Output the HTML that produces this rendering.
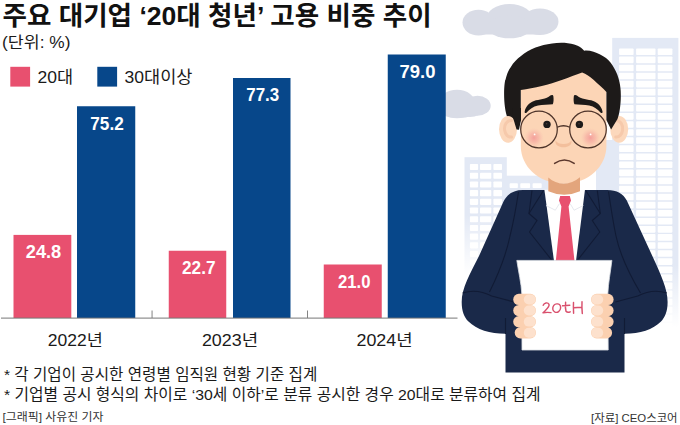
<!DOCTYPE html>
<html lang="ko"><head><meta charset="utf-8"><title>주요 대기업 20대 청년 고용 비중 추이</title>
<style>
html,body{margin:0;padding:0;background:#fff}
body{width:680px;height:425px;position:relative;overflow:hidden;font-family:"Liberation Sans",sans-serif}
svg text{font-family:"Liberation Sans","Noto Sans CJK KR",sans-serif}
</style></head><body>
<svg width="680" height="425" viewBox="0 0 680 425" style="position:absolute;left:0;top:0"><defs>
<linearGradient id="fadeL" x1="0" y1="0" x2="0" y2="1"><stop offset="0" stop-color="#fff" stop-opacity="0"/><stop offset="1" stop-color="#fff" stop-opacity="1"/></linearGradient>
<radialGradient id="blush"><stop offset="0" stop-color="#f39a98" stop-opacity="0.9"/><stop offset="0.5" stop-color="#f5a8a0" stop-opacity="0.55"/><stop offset="1" stop-color="#f9c0b0" stop-opacity="0"/></radialGradient>
</defs>
<g fill="#d9dce6">
<ellipse cx="509.5" cy="20.5" rx="24" ry="16.5"/><ellipse cx="478.5" cy="22.6" rx="16" ry="12.9"/><ellipse cx="540" cy="21.7" rx="18.5" ry="13.3"/><ellipse cx="509.5" cy="27" rx="22" ry="11.3"/><rect x="477" y="24" width="64" height="10.5"/>
<ellipse cx="457" cy="104" rx="18.5" ry="14.3"/><ellipse cx="477.5" cy="105.8" rx="13.2" ry="10"/><ellipse cx="458" cy="110.500" rx="20" ry="7.600"/><ellipse cx="470" cy="110.500" rx="12" ry="6.500"/>
</g>
<g fill="#e3e9f5">
<rect x="612.2" y="37.9" width="66.2" height="300"/>
<rect x="596" y="140" width="24" height="200"/>
<rect x="464.5" y="157.2" width="42.3" height="150"/>
<rect x="506" y="175.7" width="42" height="130"/>
</g>
<g fill="#fff">
<rect x="619.1" y="48.50" width="14.5" height="6.6" rx="0.8"/>
<rect x="636.1" y="48.50" width="19.4" height="6.6" rx="0.8"/>
<rect x="657.7" y="48.50" width="14.7" height="6.6" rx="0.8"/>
<rect x="619.1" y="56.57" width="14.5" height="6.6" rx="0.8"/>
<rect x="636.1" y="56.57" width="19.4" height="6.6" rx="0.8"/>
<rect x="657.7" y="56.57" width="14.7" height="6.6" rx="0.8"/>
<rect x="619.1" y="64.64" width="14.5" height="6.6" rx="0.8"/>
<rect x="636.1" y="64.64" width="19.4" height="6.6" rx="0.8"/>
<rect x="657.7" y="64.64" width="14.7" height="6.6" rx="0.8"/>
<rect x="619.1" y="72.71" width="14.5" height="6.6" rx="0.8"/>
<rect x="636.1" y="72.71" width="19.4" height="6.6" rx="0.8"/>
<rect x="657.7" y="72.71" width="14.7" height="6.6" rx="0.8"/>
<rect x="619.1" y="80.78" width="14.5" height="6.6" rx="0.8"/>
<rect x="636.1" y="80.78" width="19.4" height="6.6" rx="0.8"/>
<rect x="657.7" y="80.78" width="14.7" height="6.6" rx="0.8"/>
<rect x="619.1" y="88.85" width="14.5" height="6.6" rx="0.8"/>
<rect x="636.1" y="88.85" width="19.4" height="6.6" rx="0.8"/>
<rect x="657.7" y="88.85" width="14.7" height="6.6" rx="0.8"/>
<rect x="619.1" y="96.92" width="14.5" height="6.6" rx="0.8"/>
<rect x="636.1" y="96.92" width="19.4" height="6.6" rx="0.8"/>
<rect x="657.7" y="96.92" width="14.7" height="6.6" rx="0.8"/>
<rect x="619.1" y="104.99" width="14.5" height="6.6" rx="0.8"/>
<rect x="636.1" y="104.99" width="19.4" height="6.6" rx="0.8"/>
<rect x="657.7" y="104.99" width="14.7" height="6.6" rx="0.8"/>
<rect x="619.1" y="113.06" width="14.5" height="6.6" rx="0.8"/>
<rect x="636.1" y="113.06" width="19.4" height="6.6" rx="0.8"/>
<rect x="657.7" y="113.06" width="14.7" height="6.6" rx="0.8"/>
<rect x="619.1" y="121.13" width="14.5" height="6.6" rx="0.8"/>
<rect x="636.1" y="121.13" width="19.4" height="6.6" rx="0.8"/>
<rect x="657.7" y="121.13" width="14.7" height="6.6" rx="0.8"/>
<rect x="619.1" y="129.20" width="14.5" height="6.6" rx="0.8"/>
<rect x="636.1" y="129.20" width="19.4" height="6.6" rx="0.8"/>
<rect x="657.7" y="129.20" width="14.7" height="6.6" rx="0.8"/>
<rect x="619.1" y="137.27" width="14.5" height="6.6" rx="0.8"/>
<rect x="636.1" y="137.27" width="19.4" height="6.6" rx="0.8"/>
<rect x="657.7" y="137.27" width="14.7" height="6.6" rx="0.8"/>
<rect x="619.1" y="145.34" width="14.5" height="6.6" rx="0.8"/>
<rect x="636.1" y="145.34" width="19.4" height="6.6" rx="0.8"/>
<rect x="657.7" y="145.34" width="14.7" height="6.6" rx="0.8"/>
<rect x="619.1" y="153.41" width="14.5" height="6.6" rx="0.8"/>
<rect x="636.1" y="153.41" width="19.4" height="6.6" rx="0.8"/>
<rect x="657.7" y="153.41" width="14.7" height="6.6" rx="0.8"/>
<rect x="619.1" y="161.48" width="14.5" height="6.6" rx="0.8"/>
<rect x="636.1" y="161.48" width="19.4" height="6.6" rx="0.8"/>
<rect x="657.7" y="161.48" width="14.7" height="6.6" rx="0.8"/>
<rect x="619.1" y="169.55" width="14.5" height="6.6" rx="0.8"/>
<rect x="636.1" y="169.55" width="19.4" height="6.6" rx="0.8"/>
<rect x="657.7" y="169.55" width="14.7" height="6.6" rx="0.8"/>
<rect x="619.1" y="177.62" width="14.5" height="6.6" rx="0.8"/>
<rect x="636.1" y="177.62" width="19.4" height="6.6" rx="0.8"/>
<rect x="657.7" y="177.62" width="14.7" height="6.6" rx="0.8"/>
<rect x="619.1" y="185.69" width="14.5" height="6.6" rx="0.8"/>
<rect x="636.1" y="185.69" width="19.4" height="6.6" rx="0.8"/>
<rect x="657.7" y="185.69" width="14.7" height="6.6" rx="0.8"/>
<rect x="619.1" y="193.76" width="14.5" height="6.6" rx="0.8"/>
<rect x="636.1" y="193.76" width="19.4" height="6.6" rx="0.8"/>
<rect x="657.7" y="193.76" width="14.7" height="6.6" rx="0.8"/>
<rect x="619.1" y="201.83" width="14.5" height="6.6" rx="0.8"/>
<rect x="636.1" y="201.83" width="19.4" height="6.6" rx="0.8"/>
<rect x="657.7" y="201.83" width="14.7" height="6.6" rx="0.8"/>
<rect x="619.1" y="209.90" width="14.5" height="6.6" rx="0.8"/>
<rect x="636.1" y="209.90" width="19.4" height="6.6" rx="0.8"/>
<rect x="657.7" y="209.90" width="14.7" height="6.6" rx="0.8"/>
<rect x="619.1" y="217.97" width="14.5" height="6.6" rx="0.8"/>
<rect x="636.1" y="217.97" width="19.4" height="6.6" rx="0.8"/>
<rect x="657.7" y="217.97" width="14.7" height="6.6" rx="0.8"/>
<rect x="619.1" y="226.04" width="14.5" height="6.6" rx="0.8"/>
<rect x="636.1" y="226.04" width="19.4" height="6.6" rx="0.8"/>
<rect x="657.7" y="226.04" width="14.7" height="6.6" rx="0.8"/>
<rect x="619.1" y="234.11" width="14.5" height="6.6" rx="0.8"/>
<rect x="636.1" y="234.11" width="19.4" height="6.6" rx="0.8"/>
<rect x="657.7" y="234.11" width="14.7" height="6.6" rx="0.8"/>
<rect x="619.1" y="242.18" width="14.5" height="6.6" rx="0.8"/>
<rect x="636.1" y="242.18" width="19.4" height="6.6" rx="0.8"/>
<rect x="657.7" y="242.18" width="14.7" height="6.6" rx="0.8"/>
<rect x="619.1" y="250.25" width="14.5" height="6.6" rx="0.8"/>
<rect x="636.1" y="250.25" width="19.4" height="6.6" rx="0.8"/>
<rect x="657.7" y="250.25" width="14.7" height="6.6" rx="0.8"/>
<rect x="619.1" y="258.32" width="14.5" height="6.6" rx="0.8"/>
<rect x="636.1" y="258.32" width="19.4" height="6.6" rx="0.8"/>
<rect x="657.7" y="258.32" width="14.7" height="6.6" rx="0.8"/>
<rect x="619.1" y="266.39" width="14.5" height="6.6" rx="0.8"/>
<rect x="636.1" y="266.39" width="19.4" height="6.6" rx="0.8"/>
<rect x="657.7" y="266.39" width="14.7" height="6.6" rx="0.8"/>
<rect x="619.1" y="274.46" width="14.5" height="6.6" rx="0.8"/>
<rect x="636.1" y="274.46" width="19.4" height="6.6" rx="0.8"/>
<rect x="657.7" y="274.46" width="14.7" height="6.6" rx="0.8"/>
<rect x="619.1" y="282.53" width="14.5" height="6.6" rx="0.8"/>
<rect x="636.1" y="282.53" width="19.4" height="6.6" rx="0.8"/>
<rect x="657.7" y="282.53" width="14.7" height="6.6" rx="0.8"/>
<rect x="619.1" y="290.60" width="14.5" height="6.6" rx="0.8"/>
<rect x="636.1" y="290.60" width="19.4" height="6.6" rx="0.8"/>
<rect x="657.7" y="290.60" width="14.7" height="6.6" rx="0.8"/>
<rect x="619.1" y="298.67" width="14.5" height="6.6" rx="0.8"/>
<rect x="636.1" y="298.67" width="19.4" height="6.6" rx="0.8"/>
<rect x="657.7" y="298.67" width="14.7" height="6.6" rx="0.8"/>
<rect x="619.1" y="306.74" width="14.5" height="6.6" rx="0.8"/>
<rect x="636.1" y="306.74" width="19.4" height="6.6" rx="0.8"/>
<rect x="657.7" y="306.74" width="14.7" height="6.6" rx="0.8"/>
<rect x="619.1" y="314.81" width="14.5" height="6.6" rx="0.8"/>
<rect x="636.1" y="314.81" width="19.4" height="6.6" rx="0.8"/>
<rect x="657.7" y="314.81" width="14.7" height="6.6" rx="0.8"/>
<rect x="619.1" y="322.88" width="14.5" height="6.6" rx="0.8"/>
<rect x="636.1" y="322.88" width="19.4" height="6.6" rx="0.8"/>
<rect x="657.7" y="322.88" width="14.7" height="6.6" rx="0.8"/>
<rect x="619.1" y="330.95" width="14.5" height="6.6" rx="0.8"/>
<rect x="636.1" y="330.95" width="19.4" height="6.6" rx="0.8"/>
<rect x="657.7" y="330.95" width="14.7" height="6.6" rx="0.8"/>
<rect x="469.9" y="164.00" width="8.2" height="6.1" rx="0.8"/>
<rect x="480" y="164.00" width="11.3" height="6.1" rx="0.8"/>
<rect x="493.4" y="164.00" width="8.6" height="6.1" rx="0.8"/>
<rect x="469.9" y="172.70" width="8.2" height="6.1" rx="0.8"/>
<rect x="480" y="172.70" width="11.3" height="6.1" rx="0.8"/>
<rect x="493.4" y="172.70" width="8.6" height="6.1" rx="0.8"/>
<rect x="469.9" y="181.40" width="8.2" height="6.1" rx="0.8"/>
<rect x="480" y="181.40" width="11.3" height="6.1" rx="0.8"/>
<rect x="493.4" y="181.40" width="8.6" height="6.1" rx="0.8"/>
<rect x="469.9" y="190.10" width="8.2" height="6.1" rx="0.8"/>
<rect x="480" y="190.10" width="11.3" height="6.1" rx="0.8"/>
<rect x="493.4" y="190.10" width="8.6" height="6.1" rx="0.8"/>
<rect x="469.9" y="198.80" width="8.2" height="6.1" rx="0.8"/>
<rect x="480" y="198.80" width="11.3" height="6.1" rx="0.8"/>
<rect x="493.4" y="198.80" width="8.6" height="6.1" rx="0.8"/>
<rect x="469.9" y="207.50" width="8.2" height="6.1" rx="0.8"/>
<rect x="480" y="207.50" width="11.3" height="6.1" rx="0.8"/>
<rect x="493.4" y="207.50" width="8.6" height="6.1" rx="0.8"/>
<rect x="469.9" y="216.20" width="8.2" height="6.1" rx="0.8"/>
<rect x="480" y="216.20" width="11.3" height="6.1" rx="0.8"/>
<rect x="493.4" y="216.20" width="8.6" height="6.1" rx="0.8"/>
<rect x="469.9" y="224.90" width="8.2" height="6.1" rx="0.8"/>
<rect x="480" y="224.90" width="11.3" height="6.1" rx="0.8"/>
<rect x="493.4" y="224.90" width="8.6" height="6.1" rx="0.8"/>
<rect x="469.9" y="233.60" width="8.2" height="6.1" rx="0.8"/>
<rect x="480" y="233.60" width="11.3" height="6.1" rx="0.8"/>
<rect x="493.4" y="233.60" width="8.6" height="6.1" rx="0.8"/>
<rect x="469.9" y="242.30" width="8.2" height="6.1" rx="0.8"/>
<rect x="480" y="242.30" width="11.3" height="6.1" rx="0.8"/>
<rect x="493.4" y="242.30" width="8.6" height="6.1" rx="0.8"/>
<rect x="469.9" y="251.00" width="8.2" height="6.1" rx="0.8"/>
<rect x="480" y="251.00" width="11.3" height="6.1" rx="0.8"/>
<rect x="493.4" y="251.00" width="8.6" height="6.1" rx="0.8"/>
<rect x="469.9" y="259.70" width="8.2" height="6.1" rx="0.8"/>
<rect x="480" y="259.70" width="11.3" height="6.1" rx="0.8"/>
<rect x="493.4" y="259.70" width="8.6" height="6.1" rx="0.8"/>
<rect x="469.9" y="268.40" width="8.2" height="6.1" rx="0.8"/>
<rect x="480" y="268.40" width="11.3" height="6.1" rx="0.8"/>
<rect x="493.4" y="268.40" width="8.6" height="6.1" rx="0.8"/>
<rect x="469.9" y="277.10" width="8.2" height="6.1" rx="0.8"/>
<rect x="480" y="277.10" width="11.3" height="6.1" rx="0.8"/>
<rect x="493.4" y="277.10" width="8.6" height="6.1" rx="0.8"/>
<rect x="469.9" y="285.80" width="8.2" height="6.1" rx="0.8"/>
<rect x="480" y="285.80" width="11.3" height="6.1" rx="0.8"/>
<rect x="493.4" y="285.80" width="8.6" height="6.1" rx="0.8"/>
<rect x="469.9" y="294.50" width="8.2" height="6.1" rx="0.8"/>
<rect x="480" y="294.50" width="11.3" height="6.1" rx="0.8"/>
<rect x="493.4" y="294.50" width="8.6" height="6.1" rx="0.8"/>
<rect x="509.6" y="183.2" width="8.3" height="4.8" rx="0.8"/>
<rect x="520.3" y="183.2" width="9.8" height="4.8" rx="0.8"/>
<rect x="532.6" y="183.2" width="9.1" height="4.8" rx="0.8"/>
</g>
<rect x="458" y="215" width="100" height="60" fill="url(#fadeL)"/><rect x="458" y="275" width="100" height="40" fill="#fff"/>
<rect x="590" y="265" width="90" height="62" fill="url(#fadeL)"/><rect x="590" y="327" width="90" height="20" fill="#fff"/>
<ellipse cx="619.2" cy="129.3" rx="9" ry="13.4" fill="#fcd8bc"/>
<path d="M615.700 120.500C620.700 120.500 623.200 125 622.600 130C622 134.500 619.200 137.500 615.700 137" fill="none" stroke="#f6c9ab" stroke-width="3" stroke-linecap="round"/>
<path d="M520.8 66H606.4V146C606.4 166 589 183.6 563.6 183.6C538 183.6 520.8 166 520.8 146Z" fill="#fcd5b6"/>
<path d="M504.1 94C504.1 86 505 79.700 505.500 79.700C507 74 508 71 510.700 67.300C513.500 62 517 59 521 55.900C525 52.500 530 50 535.500 47.600C541 45.500 546 44.200 552.100 43.500C556 42.800 560 42.600 564.500 42.800C569 43.200 573.500 44.200 577 45.500C580 46.800 582.500 48.500 584.200 50.700C587 50.300 590.500 50.800 593.500 51.700C598 53.200 602.500 55.500 606 58C609.500 61 612.300 64.500 614.200 68.300C616.700 72.500 618.400 77 619.400 81.800C620.300 86 620.800 90 620.800 94.200C621 104 619.500 114 617.500 119L611.100 129.500L606.400 120V92.100C603 88 598 84 593.500 79.700C590 76.500 586 74 582.100 72.400C576 74.500 569 77.500 562.500 79.700C555.500 82.200 548.500 84.300 541.800 85.900C534.500 87.700 527.500 89 520.800 90V120L516.900 129.500L507.500 118C505.300 112 504.100 103 504.100 94Z" fill="#1d1a19"/>
<ellipse cx="508" cy="129.3" rx="9" ry="13.4" fill="#fcd8bc"/>
<path d="M511.500 120.500C506.500 120.500 504 125 504.600 130C505.200 134.500 508 137.500 511.500 137" fill="none" stroke="#f6c9ab" stroke-width="3" stroke-linecap="round"/>
<path d="M512.300 108H521V120L519 129.800L516.600 129.600L512.300 115.600Z" fill="#1d1a19"/>
<path d="M524.7 111.4C525.800 106.500 529 102.800 534 101C539 99.400 546.500 99.300 550.300 95.600C551.500 94.500 553.200 94.600 553.400 96.400C553.800 99.300 553.600 102.300 552.800 104.300C548.500 105 542.500 104.500 538 105.400C533 106.500 529.500 109 526.700 112.500C525.800 113.600 524.300 112.800 524.700 111.400Z" fill="#1d1a19"/>
<path d="M602.5 111.4 C601.4 106.5 598.2 102.8 593.2 101 C588.2 99.4 580.7 99.3 576.9 95.6 C575.7 94.5 574 94.6 573.8 96.4 C573.4 99.3 573.6 102.3 574.4 104.3 C578.7 105 584.7 104.5 589.2 105.4 C594.2 106.5 597.7 109 600.5 112.5 C601.4 113.6 602.9 112.8 602.5 111.4 Z" fill="#1d1a19"/>
<circle cx="534" cy="137.8" r="10" fill="url(#blush)"/><circle cx="590.5" cy="137.8" r="10" fill="url(#blush)"/>
<circle cx="534.6" cy="134.4" r="0.9" fill="#fff"/><circle cx="590.6" cy="134.4" r="0.9" fill="#fff"/>
<path d="M555.5 140.500C555 145 558.500 147.300 563.500 147.300C568.500 147.300 572 145 571.500 140.500C570 143 567 144 563.500 144C560 144 557 143 555.500 140.500Z" fill="#f3bf9c"/>
<circle cx="547" cy="124.4" r="3.7" fill="#1d1a19"/><circle cx="579.4" cy="124.4" r="3.7" fill="#1d1a19"/>
<circle cx="546.6" cy="123.8" r="0.8" fill="#4a3a36"/><circle cx="579" cy="123.8" r="0.8" fill="#4a3a36"/>
<g fill="none" stroke="#4e342a" stroke-width="1.25"><circle cx="539" cy="129.5" r="18.3"/><circle cx="588" cy="129.5" r="18.3"/><path d="M557.2 127.300Q563.500 124.200 569.800 127.300"/></g>
<path d="M554.6 163.400Q564.400 156.400 574.200 163.400" fill="none" stroke="#5a372c" stroke-width="1.5" stroke-linecap="round"/>
<path d="M544.4 190H523C513 190 507 194.500 503.500 201.500L479 256C470 274 461.700 288 461.700 302C461.700 311.500 464.300 317.500 468.500 321.500C476.500 329.500 490 333.800 505.500 333.800V372.600H624.500V333.800C640 333.800 653 329.500 661 321.500C665 317.500 667.600 311.500 667.600 302C667.600 289 661 275 652.800 257L626.800 200.500C623.300 194 617 190 607 190H585Z" fill="#1a2949"/>
<path d="M544.4 189.800H585L576 261H554Z" fill="#fff"/>
<path d="M548.3 177.5C553 181.600 558 183.600 563.600 183.600C569.500 183.600 575 181.600 580 177.300V191.200Q564.200 198.200 548.300 191.200Z" fill="#e3a57c"/>
<path d="M546 205.500L555.300 210.200L559.500 203.500M583.400 205.500L574.100 210.200L570 203.500" fill="none" stroke="#e3e5ec" stroke-width="0.9"/>
<path d="M560.2 196H569.800L571 200.500L568.600 206.500L574.500 261H555.800L561.400 206.500L559 200.500Z" fill="#e8506f"/>
<g fill="none" stroke="#111b35" stroke-width="1.1" stroke-linejoin="round"><path d="M543.500 190.500L529 213.500L537 220.500L529.500 232L552.400 261"/><path d="M532 190.500L529 213.500"/><path d="M585.800 190.500L600.300 213.500L592.300 220.500L599.800 232L576.900 261"/><path d="M597.300 190.500L600.300 213.500"/>
<path d="M462.600 293C472 290 483 291.500 491.700 296L514 302"/><path d="M518.500 192C516.500 205 513.500 222 510 236C506 255 499.500 272 489.500 292"/><path d="M505.500 334V318"/>
<path d="M666.800 293C657.400 290 646.400 291.500 637.700 296L615.400 302"/><path d="M608.500 191.500C610.500 205 613 222 616 236C620 255 628 272 640.500 293"/><path d="M624.500 334V318"/></g>
<path d="M516.8 260.400H611.900C610.500 272 608.300 283 607.800 294L608.200 350H522L521.800 294C521.300 283 518.500 272 516.800 260.400Z" fill="#fff" stroke="#dcdfe5" stroke-width="0.8"/>
<rect x="513.2" y="293.8" width="22.8" height="11.3" rx="5.6" fill="#fbd0b0"/><rect x="513.2" y="304.9" width="22.8" height="11.3" rx="5.6" fill="#fbd0b0"/><rect x="513.2" y="316.0" width="22.8" height="11.3" rx="5.6" fill="#fbd0b0"/><rect x="514.7" y="327.1" width="21.3" height="11.3" rx="5.6" fill="#fbd0b0"/><rect x="523.8" y="294.5" width="11.8" height="9.9" rx="4.9" fill="#fde1cd"/><rect x="523.8" y="305.59999999999997" width="11.8" height="9.9" rx="4.9" fill="#fde1cd"/><rect x="523.8" y="316.7" width="11.8" height="9.9" rx="4.9" fill="#fde1cd"/><rect x="523.8" y="327.8" width="11.8" height="9.9" rx="4.9" fill="#fde1cd"/>
<rect x="591" y="293.8" width="22.6" height="11.3" rx="5.6" fill="#fbd0b0"/><rect x="591" y="304.9" width="22.6" height="11.3" rx="5.6" fill="#fbd0b0"/><rect x="591" y="316.0" width="22.6" height="11.3" rx="5.6" fill="#fbd0b0"/><rect x="591" y="327.1" width="21.1" height="11.3" rx="5.6" fill="#fbd0b0"/><rect x="591.4" y="294.5" width="11.8" height="9.9" rx="4.9" fill="#fde1cd"/><rect x="591.4" y="305.59999999999997" width="11.8" height="9.9" rx="4.9" fill="#fde1cd"/><rect x="591.4" y="316.7" width="11.8" height="9.9" rx="4.9" fill="#fde1cd"/><rect x="591.4" y="327.8" width="11.8" height="9.9" rx="4.9" fill="#fde1cd"/>
<g fill="none" stroke="#d9506d" stroke-width="1.45" stroke-linecap="round" stroke-linejoin="round"><path d="M543.200 305.300C544.200 302.600 547.800 302 549 304.300C550 306.800 546 309.800 543 312.800C545.500 312.300 548.300 312.300 551 312.600"/><path d="M557.300 303.900C554.200 303.600 552.500 306.500 552.800 309.200C553.200 312 556.200 313.300 558.600 311.600C561 309.900 561.300 306 559.500 304.500C558.800 304 558 303.800 557.300 303.900Z"/><path d="M562.600 305.800C565 305.400 567.500 305.200 569.800 305.200M565.600 302.200C565.300 305.500 565.300 308.800 566 311.300C567 312.500 568.800 312.500 570.200 311.800"/><path d="M573.500 302.500C573.300 306 573.400 309.500 573.600 313.300M573.600 307.800C576.500 307.400 579.300 307.300 582 307.300M582 301.800C581.800 305.500 581.900 309.500 582.300 313.500"/></g><rect x="10.3" y="66.800" width="19.8" height="19.8" fill="#e8506f"/><rect x="97.3" y="66.8" width="19.8" height="19.8" fill="#07478a"/><rect x="13.5" y="234.9" width="57.80" height="83.10" fill="#e8506f"/><rect x="77" y="106.25" width="58.25" height="211.75" fill="#07478a"/><rect x="168.75" y="250.75" width="57.50" height="67.25" fill="#e8506f"/><rect x="233" y="78" width="57.50" height="240.00" fill="#07478a"/><rect x="323.75" y="264.5" width="58.00" height="53.50" fill="#e8506f"/><rect x="387.75" y="54.5" width="58.00" height="263.50" fill="#07478a"/><rect x="1" y="317.6" width="456.5" height="1" fill="#777"/><rect x="151.6" y="310.5" width="0.9" height="7.5" fill="#777"/><rect x="307.1" y="310.5" width="0.9" height="7.5" fill="#777"/>
<text x="2.5" y="24.6" font-size="26.4" font-weight="bold" fill="#111" textLength="429.1" lengthAdjust="spacingAndGlyphs">주요 대기업 ‘20대 청년’ 고용 비중 추이</text>
<text x="2.1" y="48.2" font-size="16" fill="#1a1a1a" textLength="68.3" lengthAdjust="spacingAndGlyphs">(단위: %)</text>
<text x="37.5" y="82.8" font-size="16.6" fill="#1a1a1a" textLength="35.6" lengthAdjust="spacingAndGlyphs">20대</text>
<text x="124.5" y="82.7" font-size="16.8" fill="#1a1a1a" textLength="67.9" lengthAdjust="spacingAndGlyphs">30대이상</text>
<text x="47.8" y="346.4" font-size="15.6" fill="#1a1a1a" textLength="55.1" lengthAdjust="spacingAndGlyphs">2022년</text>
<text x="201.9" y="346.4" font-size="15.6" fill="#1a1a1a" textLength="56.2" lengthAdjust="spacingAndGlyphs">2023년</text>
<text x="356.5" y="346.4" font-size="15.6" fill="#1a1a1a" textLength="56.2" lengthAdjust="spacingAndGlyphs">2024년</text>
<text x="3.9" y="379.7" font-size="15.5" fill="#1a1a1a" textLength="313.4" lengthAdjust="spacingAndGlyphs">* 각 기업이 공시한 연령별 임직원 현황 기준 집계</text>
<text x="3.9" y="400.3" font-size="15.5" fill="#1a1a1a" textLength="536.7" lengthAdjust="spacingAndGlyphs">* 기업별 공시 형식의 차이로 ‘30세 이하’로 분류 공시한 경우 20대로 분류하여 집계</text>
<text x="2.5" y="421.3" font-size="11.4" fill="#333" textLength="101" lengthAdjust="spacingAndGlyphs">[그래픽] 사유진 기자</text>
<text x="591" y="421.8" font-size="11.6" fill="#333" textLength="86.6" lengthAdjust="spacingAndGlyphs">[자료] CEO스코어</text>
<text x="90.3" y="129.65" font-size="17.6" font-weight="bold" fill="#fff" textLength="33.4" lengthAdjust="spacingAndGlyphs">75.2</text>
<text x="246.25" y="101.16" font-size="17.6" font-weight="bold" fill="#fff" textLength="33" lengthAdjust="spacingAndGlyphs">77.3</text>
<text x="399.5" y="77.85" font-size="17.6" font-weight="bold" fill="#fff" textLength="36" lengthAdjust="spacingAndGlyphs">79.0</text>
<text x="25.75" y="257.75" font-size="17.6" font-weight="bold" fill="#fff" textLength="35.5" lengthAdjust="spacingAndGlyphs">24.8</text>
<text x="182" y="273.95" font-size="17.6" font-weight="bold" fill="#fff" textLength="33.5" lengthAdjust="spacingAndGlyphs">22.7</text>
<text x="338" y="287.95" font-size="17.6" font-weight="bold" fill="#fff" textLength="32.5" lengthAdjust="spacingAndGlyphs">21.0</text>
</svg>
</body></html>
